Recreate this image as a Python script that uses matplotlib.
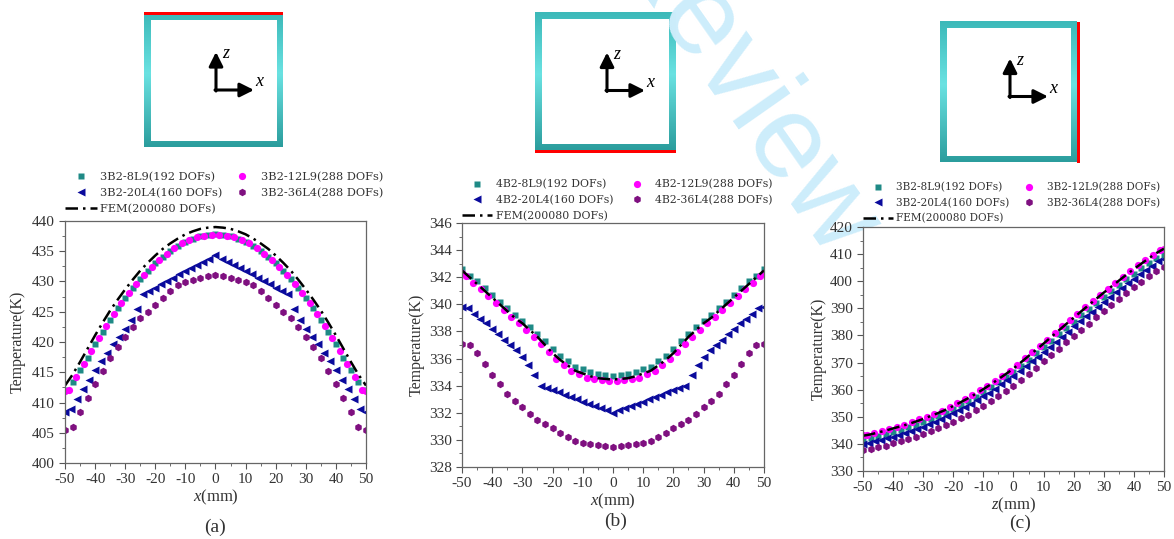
import matplotlib
matplotlib.use("Agg")
import matplotlib.pyplot as plt
import numpy as np
from matplotlib.colors import LinearSegmentedColormap
from matplotlib.patches import Rectangle
from matplotlib.ticker import MultipleLocator, AutoMinorLocator

plt.rcParams["font.family"] = "Liberation Serif"
plt.rcParams["mathtext.fontset"] = "custom"
plt.rcParams["mathtext.rm"] = "Liberation Serif"
plt.rcParams["mathtext.it"] = "Liberation Serif:italic"
plt.rcParams["axes.unicode_minus"] = False

# posições (mm) de cada série
x_quad = [-50, -47.5, -45, -42.5, -40, -37.5, -35, -32.5, -30, -27.5, -25, -22.5, -20,
          -17.5, -15, -12.5, -10, -7.5, -5, -2.5, 0, 2.5, 5, 7.5, 10, 12.5, 15, 17.5,
          20, 22.5, 25, 27.5, 30, 32.5, 35, 37.5, 40, 42.5, 45, 47.5, 50]
x_circ = [-50, -48.75, -46.25, -43.75, -41.25, -38.75, -36.25, -33.75, -31.25, -28.75,
          -26.25, -23.75, -21.25, -18.75, -16.25, -13.75, -11.25, -8.75, -6.25, -3.75,
          -1.25, 1.25, 3.75, 6.25, 8.75, 11.25, 13.75, 16.25, 18.75, 21.25, 23.75,
          26.25, 28.75, 31.25, 33.75, 36.25, 38.75, 41.25, 43.75, 46.25, 48.75, 50]
x_tri = [-50, -48, -46, -44, -42, -40, -38, -36, -34, -32, -30, -28, -26, -24, -22, -20,
         -18, -16, -14, -12, -10, -8, -6, -4, -2, 0, 2, 4, 6, 8, 10, 12, 14, 16, 18, 20,
         22, 24, 26, 28, 30, 32, 34, 36, 38, 40, 42, 44, 46, 48, 50]

# (a) face superior
a_8l9 = [412.0, 413.4, 415.3, 417.4, 419.6, 421.7, 423.7, 425.6, 427.3, 428.9, 430.4,
         431.8, 433.0, 434.1, 435.1, 435.9, 436.6, 437.1, 437.5, 437.7, 437.8, 437.7,
         437.5, 437.1, 436.6, 435.9, 435.1, 434.1, 433.0, 431.8, 430.4, 428.9, 427.3,
         425.6, 423.7, 421.7, 419.6, 417.4, 415.3, 413.4, 412.0]
a_12l9 = [411.9, 412.1, 414.2, 416.3, 418.5, 420.6, 422.7, 424.6, 426.4, 428.1, 429.6,
          431.1, 432.4, 433.5, 434.6, 435.5, 436.3, 436.9, 437.3, 437.6, 437.7, 437.7,
          437.6, 437.3, 436.9, 436.3, 435.5, 434.6, 433.5, 432.4, 431.1, 429.6, 428.1,
          426.4, 424.6, 422.7, 420.6, 418.5, 416.3, 414.2, 412.1, 411.9]
a_20l4 = [408.5, 408.9, 410.6, 412.2, 413.8, 415.3, 416.8, 418.2, 419.6, 420.9, 422.2,
          423.6, 425.5, 428.0, 428.5, 429.0, 429.6, 430.1, 430.6, 431.2, 431.7, 432.2,
          432.7, 433.3, 433.8, 434.3, 433.8, 433.3, 432.7, 432.2, 431.7, 431.2, 430.6,
          430.1, 429.6, 429.0, 428.5, 428.0, 425.5, 423.6, 422.2, 420.9, 419.6, 418.2,
          416.8, 415.3, 413.8, 412.2, 410.6, 408.9, 408.5]
a_36l4 = [405.5, 406.0, 408.4, 410.8, 413.0, 415.2, 417.3, 419.1, 420.9, 422.5, 423.9,
          425.0, 426.1, 427.3, 428.5, 429.5, 429.9, 430.2, 430.6, 430.9, 431.1, 430.9,
          430.6, 430.2, 429.9, 429.5, 428.5, 427.3, 426.1, 425.0, 423.9, 422.5, 420.9,
          419.1, 417.3, 415.2, 413.0, 410.8, 408.4, 406.0, 405.5]
a_fem = [412.8, 414.6, 416.7, 418.9, 421.1, 423.2, 425.2, 427.0, 428.7, 430.3, 431.8,
         433.1, 434.3, 435.4, 436.3, 437.1, 437.8, 438.3, 438.7, 438.9, 439.0, 438.9,
         438.7, 438.3, 437.8, 437.1, 436.3, 435.4, 434.3, 433.1, 431.8, 430.3, 428.7,
         427.0, 425.2, 423.2, 421.1, 418.9, 416.7, 414.6, 412.8]

# (b) face inferior
b_8l9 = [342.6, 342.1, 341.7, 341.2, 340.7, 340.2, 339.7, 339.2, 338.8, 338.3, 337.8,
         337.3, 336.7, 336.2, 335.8, 335.4, 335.2, 335.0, 334.85, 334.8, 334.75, 334.8,
         334.85, 335.0, 335.2, 335.4, 335.8, 336.2, 336.7, 337.3, 337.8, 338.3, 338.8,
         339.2, 339.7, 340.2, 340.7, 341.2, 341.7, 342.1, 342.6]
b_12l9 = [342.3, 342.1, 341.6, 341.1, 340.6, 340.1, 339.6, 339.1, 338.6, 338.1, 337.6,
          337.1, 336.5, 336.0, 335.5, 335.1, 334.85, 334.6, 334.5, 334.4, 334.35, 334.35,
          334.4, 334.5, 334.6, 334.85, 335.1, 335.5, 336.0, 336.5, 337.1, 337.6, 338.1,
          338.6, 339.1, 339.6, 340.1, 340.6, 341.1, 341.6, 342.1, 342.3]
b_20l4 = [339.8, 339.7, 339.3, 338.9, 338.6, 338.2, 337.8, 337.4, 337.0, 336.6, 336.1,
          335.5, 334.8, 334.0, 333.83, 333.67, 333.5, 333.33, 333.17, 333.0, 332.83,
          332.67, 332.5, 332.33, 332.17, 332.0, 332.17, 332.33, 332.5, 332.67, 332.83,
          333.0, 333.17, 333.33, 333.5, 333.67, 333.83, 334.0, 334.8, 335.5, 336.1,
          336.6, 337.0, 337.4, 337.8, 338.2, 338.6, 338.9, 339.3, 339.7, 339.8]
b_36l4 = [337.1, 337.0, 336.4, 335.6, 334.8, 334.1, 333.4, 332.9, 332.4, 331.9, 331.5,
          331.2, 330.9, 330.5, 330.2, 329.95, 329.8, 329.7, 329.6, 329.55, 329.5, 329.55,
          329.6, 329.7, 329.8, 329.95, 330.2, 330.5, 330.9, 331.2, 331.5, 331.9, 332.4,
          332.9, 333.4, 334.1, 334.8, 335.6, 336.4, 337.0, 337.1]
b_fem = [342.5, 342.0, 341.5, 341.0, 340.5, 340.0, 339.5, 339.0, 338.6, 338.1, 337.6,
         337.0, 336.4, 335.9, 335.5, 335.1, 334.9, 334.7, 334.55, 334.5, 334.45, 334.5,
         334.55, 334.7, 334.9, 335.1, 335.5, 335.9, 336.4, 337.0, 337.6, 338.1, 338.6,
         339.0, 339.5, 340.0, 340.5, 341.0, 341.5, 342.0, 342.5]

# (c) face lateral direita
c_8l9 = [341.8, 342.3, 342.9, 343.6, 344.4, 345.2, 346.1, 347.0, 348.0, 349.1, 350.2,
         351.4, 352.8, 354.2, 355.7, 357.3, 359.0, 360.8, 362.7, 364.6, 366.6, 368.8,
         371.1, 373.4, 375.7, 378.1, 380.5, 382.8, 385.1, 387.5, 389.8, 392.1, 394.3,
         396.5, 398.6, 400.7, 402.8, 404.8, 406.8, 408.6, 409.8]
c_12l9 = [343.1, 343.4, 344.0, 344.7, 345.5, 346.3, 347.1, 348.0, 349.0, 350.0, 351.1,
          352.3, 353.6, 355.0, 356.4, 358.0, 359.7, 361.4, 363.2, 365.1, 367.0, 369.2,
          371.5, 373.8, 376.1, 378.5, 380.9, 383.3, 385.7, 388.0, 390.4, 392.7, 395.0,
          397.2, 399.4, 401.6, 403.7, 405.8, 407.8, 409.7, 411.5, 411.9]
c_20l4 = [340.0, 340.4, 340.9, 341.5, 342.0, 342.7, 343.4, 344.1, 344.8, 345.6, 346.4,
          347.3, 348.2, 349.2, 350.2, 351.3, 352.4, 353.6, 354.8, 356.1, 357.5, 358.9,
          360.4, 362.0, 363.5, 365.1, 366.8, 368.6, 370.4, 372.2, 374.0, 375.8, 377.7,
          379.5, 381.4, 383.3, 385.2, 387.0, 388.8, 390.6, 392.5, 394.2, 395.9, 397.6,
          399.2, 400.9, 402.5, 404.1, 405.7, 407.3, 408.3]
c_36l4 = [337.6, 338.0, 338.7, 339.4, 340.2, 341.0, 341.8, 342.7, 343.6, 344.6, 345.7,
          346.8, 348.1, 349.4, 350.8, 352.4, 354.0, 355.7, 357.6, 359.5, 361.5, 363.6,
          365.8, 368.1, 370.4, 372.7, 375.0, 377.4, 379.7, 382.1, 384.4, 386.7, 389.0,
          391.2, 393.4, 395.6, 397.7, 399.8, 401.8, 403.7, 405.2]
c_fem = [343.0, 343.5, 344.2, 344.9, 345.7, 346.5, 347.3, 348.2, 349.2, 350.3, 351.4,
         352.6, 354.0, 355.4, 356.9, 358.5, 360.2, 362.0, 363.9, 365.8, 367.8, 370.1,
         372.4, 374.7, 377.0, 379.4, 381.8, 384.2, 386.5, 388.9, 391.2, 393.5, 395.8,
         398.0, 400.2, 402.4, 404.5, 406.5, 408.5, 410.4, 412.0]

W, H = 1174, 539
TEAL = "#1f8a86"
ROSA = "#ff00ff"
AZUL = "#0a0a9c"
ROXO = "#7f1080"
CINZA = "#333333"

fig = plt.figure(figsize=(W / 100, H / 100), dpi=100)

# camada de fundo em pixels (quadros, setas, marca d'água)
bg = fig.add_axes([0, 0, 1, 1])
bg.set_zorder(-1)

cmap_borda = LinearSegmentedColormap.from_list(
    "borda", [(0.0, "#3cb9b9"), (0.45, "#6ae2e2"), (1.0, "#2b9d9d")])


def desenhar_quadro(x0, y0, x1, y1, vermelho, origem, tam):
    e = 6.5
    grad = np.linspace(0, 1, 200).reshape(-1, 1)
    bg.imshow(grad, extent=(x0, x1, y1, y0), cmap=cmap_borda, aspect="auto",
              origin="upper", interpolation="bilinear")
    bg.add_patch(Rectangle((x0 + e, y0 + e), x1 - x0 - 2 * e, y1 - y0 - 2 * e,
                           facecolor="white", edgecolor="none"))
    if vermelho == "top":
        bg.add_patch(Rectangle((x0, y0 - 2), x1 - x0, 3.2, color="#ff0000", lw=0))
    elif vermelho == "bottom":
        bg.add_patch(Rectangle((x0, y1), x1 - x0, 3.2, color="#ff0000", lw=0))
    else:
        bg.add_patch(Rectangle((x1, y0), 3.2, y1 - y0, color="#ff0000", lw=0))

    ox, oy = origem
    estilo = dict(arrowstyle="-|>,head_length=0.7,head_width=0.35", lw=2.2,
                  color="black", shrinkA=0, shrinkB=0, mutation_scale=12)
    bg.annotate("", xy=(ox, oy - tam), xytext=(ox, oy + 1), arrowprops=estilo)
    bg.annotate("", xy=(ox + tam, oy), xytext=(ox - 1, oy), arrowprops=estilo)
    bg.text(ox + 10, oy - tam + 2, "z", fontsize=13, style="italic", ha="center", va="center")
    bg.text(ox + tam + 5, oy - 8, "x", fontsize=13, style="italic", ha="center", va="center")


desenhar_quadro(144, 13.5, 283, 147, "top", (216, 90), 38)
desenhar_quadro(535, 12.5, 675.5, 150, "bottom", (607, 90.5), 38)
desenhar_quadro(940, 21.5, 1077, 162.5, "right", (1010, 96.5), 38)

bg.text(739, 91, "Review", rotation=-55, fontsize=85, family="Liberation Sans",
        color="#cdedfb", ha="center", va="center", rotation_mode="anchor")

bg.set_xlim(0, W)
bg.set_ylim(H, 0)
bg.axis("off")


def painel(rect_px, series, y_lim, y_passo, xlabel, prefixo, ylab_px,
           leg_px, leg_fs, leg_col, letra_px, letra):
    x0, y0, x1, y1 = rect_px
    ax = fig.add_axes([x0 / W, 1 - y1 / H, (x1 - x0) / W, (y1 - y0) / H])
    v8, v12, v20, v36, fem = series

    h8, = ax.plot(x_quad, v8, ls="none", marker="s", ms=4.8, color=TEAL, mec="none")
    h12, = ax.plot(x_circ, v12, ls="none", marker="o", ms=5.2, color=ROSA, mec="none")
    h20, = ax.plot(x_tri, v20, ls="none", marker="<", ms=5.5, color=AZUL, mec="none")
    h36, = ax.plot(x_quad, v36, ls="none", marker="h", ms=5.4, color=ROXO, mec="none")
    hf, = ax.plot(x_quad, fem, color="black", lw=1.8, dashes=(5, 2, 1, 2))

    ax.set_xlim(-50, 50)
    ax.set_ylim(*y_lim)
    ax.xaxis.set_major_locator(MultipleLocator(10))
    ax.xaxis.set_minor_locator(AutoMinorLocator(2))
    ax.yaxis.set_major_locator(MultipleLocator(y_passo))
    ax.yaxis.set_minor_locator(AutoMinorLocator(2))
    ax.tick_params(which="major", direction="out", length=4, width=0.8,
                   labelsize=11, labelcolor=CINZA, color="#555555")
    ax.tick_params(which="minor", direction="out", length=2, width=0.6, color="#555555")
    for s in ax.spines.values():
        s.set_color("#666666")
        s.set_linewidth(0.9)

    ax.set_xlabel(xlabel, fontsize=12, color=CINZA, labelpad=1)
    ax.set_ylabel("Temperature(K)", fontsize=11.5, color=CINZA)
    ax.yaxis.set_label_coords((ylab_px - x0) / (x1 - x0), 0.5)

    lx, ly = leg_px
    ax.legend([h8, h20, hf, h12, h36],
              [f"{prefixo}-8L9(192 DOFs)", f"{prefixo}-20L4(160 DOFs)", "FEM(200080 DOFs)",
               f"{prefixo}-12L9(288 DOFs)", f"{prefixo}-36L4(288 DOFs)"],
              ncol=2, loc="upper left", bbox_to_anchor=(lx / W, 1 - ly / H),
              bbox_transform=fig.transFigure, frameon=False,
              prop={"family": "DejaVu Serif", "size": leg_fs},
              handlelength=2.8, handletextpad=0.3, columnspacing=leg_col,
              labelspacing=0.5, borderpad=0, borderaxespad=0, labelcolor=CINZA)

    fig.text(letra_px[0] / W, 1 - letra_px[1] / H, letra, fontsize=14, color=CINZA,
             ha="center", va="center")
    return ax


painel((65, 221, 366, 463), (a_8l9, a_12l9, a_20l4, a_36l4, a_fem), (400, 440), 5,
       "$x$(mm)", "3B2", 26, (65, 172), 8.2, 0.3, (215, 527), "(a)")
painel((462, 223, 764, 467), (b_8l9, b_12l9, b_20l4, b_36l4, b_fem), (328, 346), 2,
       "$x$(mm)", "4B2", 425, (462, 179), 7.8, 0.8, (616, 521), "(b)")
painel((863, 227, 1164, 471), (c_8l9, c_12l9, c_20l4, c_36l4, c_fem), (330, 420), 10,
       "$z$(mm)", "3B2", 827, (863, 182), 7.6, 0.5, (1020, 523), "(c)")

fig.savefig("out.png", dpi=100)
plt.close(fig)
